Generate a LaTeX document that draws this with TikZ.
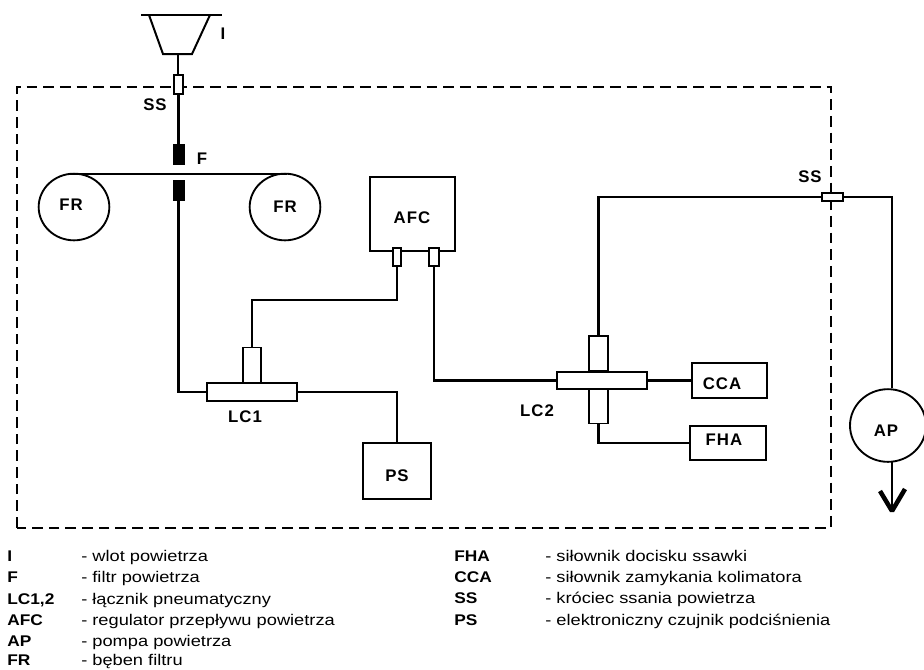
\documentclass[tikz,border=0pt]{standalone}
\usepackage{fontspec}
\setmainfont{Liberation Sans}
\newfontfamily\legfont[FakeStretch=1.18]{Liberation Sans}
\newfontfamily\legboldfont[FakeStretch=1.12]{Liberation Sans Bold}
\newfontfamily\lablfont[LetterSpace=6]{Liberation Sans Bold}
\tikzset{
  px/.style={x=0.75pt,y=-0.75pt},
  pipe/.style={line width=1.7pt,line join=miter},
  thinline/.style={line width=1.3pt},
  box/.style={draw,line width=1.9pt,fill=white,inner sep=0pt,outer sep=0pt},
  thinbox/.style={draw,line width=1.4pt,fill=white,inner sep=0pt,outer sep=0pt},
  solid block/.style={draw,fill=black,line width=0.5pt,inner sep=0pt,outer sep=0pt,minimum width=8pt,minimum height=15pt},
  drum/.style={draw,ellipse,line width=1.4pt,fill=white,inner sep=0pt,outer sep=0pt},
  lab/.style={font=\lablfont\fontsize{12.6pt}{14pt}\selectfont,inner sep=0pt},
  legkey/.style={anchor=base west,inner sep=0pt,font=\fontsize{11.6pt}{13pt}\selectfont\legboldfont},
  legtext/.style={anchor=base west,inner sep=0pt,font=\fontsize{11.6pt}{13pt}\selectfont\legfont},
}
\usetikzlibrary{shapes.geometric}
\begin{document}
\begin{tikzpicture}[px]
\clip (0,0) rectangle (924,669);
\fill[white] (0,0) rectangle (924,669);
% dashed enclosure
\draw[line width=1.5pt,dash pattern=on 8pt off 4.5pt] (17,527.5) -- (17,87) -- (831,87) -- (831,527.5) -- cycle;

% inlet funnel
\draw[line width=1.5pt] (141,14.5) -- (222,14.5);
\draw[line width=1.5pt] (149,15) -- (163,54) -- (192,54) -- (210,15);
\coordinate (inlet) at (178,54);

% components
\node[thinbox,minimum width=6.8pt,minimum height=14.2pt] (ssa) at (178.5,84.5) {};
\node[solid block] (fa) at (178.5,154) {};
\node[solid block] (fb) at (178.5,190) {};
\node[drum,minimum width=53pt,minimum height=50pt] (frl) at (74,207) {};
\node[drum,minimum width=53pt,minimum height=50pt] (frr) at (285,207) {};
\coordinate (beltl) at (70,174);
\coordinate (beltr) at (287,174);
\node[box,minimum width=63.8pt,minimum height=55.5pt] (afc) at (412.5,214) {};
\node[thinbox,line width=1.6pt,minimum width=5.6pt,minimum height=13.5pt] (afca) at (397,257) {};
\node[thinbox,line width=1.6pt,minimum width=7pt,minimum height=13.5pt] (afcb) at (434,257) {};
\node[thinbox,minimum width=13.5pt,minimum height=26.2pt] (lcau) at (252,365) {};
\node[thinbox,minimum width=67.5pt,minimum height=13.5pt] (lca) at (252,392) {};
\node[box,minimum width=51pt,minimum height=42pt] (ps) at (397,471) {};
\node[thinbox,minimum width=14.2pt,minimum height=26.2pt] (lcbu) at (598.5,353.5) {};
\node[thinbox,minimum width=14.2pt,minimum height=26.2pt] (lcbd) at (598.5,406) {};
\node[thinbox,minimum width=67.5pt,minimum height=12.8pt] (lcb) at (602,380.5) {};
\node[box,minimum width=56.2pt,minimum height=26.2pt] (cca) at (729.5,380.5) {};
\node[box,minimum width=57pt,minimum height=25.5pt] (fha) at (728,443) {};
\node[thinbox,minimum width=15.8pt,minimum height=6pt] (ssb) at (832.5,197) {};
\node[drum,minimum width=57pt,minimum height=54.5pt] (ap) at (888,425.5) {};
\coordinate (apout) at (892,511);
\coordinate (afcbend) at (397,300);
\coordinate (apin) at (892,388);
\coordinate (apstem) at (892,462);

% connectors
\draw[thinline] (inlet) -- (ssa.north -| inlet);
\draw[pipe] (ssa.south) -- (fa.north);
\draw[pipe] (beltl) -- (beltr);
\draw[pipe] (fb.south) |- (lca.west);
\draw[pipe] (lcau.north) |- (afcbend) -- (afca.south);
\draw[pipe] (afcb.south) |- (lcb.west);
\draw[pipe] (lca.east) -| (ps.north);
\draw[pipe] (lcbu.north) |- (ssb.west);
\draw[pipe] (ssb.east) -| (apin);
\draw[pipe] (lcb.east) -- (cca.west);
\draw[pipe] (lcbd.south) |- (fha.west);
\draw[pipe] (apstem) -- (apout);
\draw[line width=3.4pt,line join=bevel] (880,491) -- (apout) -- (905,489);

% diagram labels
\node[lab] at (223,34) {I};
\node[lab] at (155,105) {SS};
\node[lab] at (202,159) {F};
\node[lab] at (71,205) {FR};
\node[lab] at (285,207) {FR};
\node[lab] at (412,218) {AFC};
\node[lab] at (245,417) {LC1};
\node[lab] at (537,411) {LC2};
\node[lab] at (397,476) {PS};
\node[lab] at (722,384) {CCA};
\node[lab] at (724,440) {FHA};
\node[lab] at (810,177) {SS};
\node[lab] at (886,431) {AP};

% legend
\foreach \ky/\tx/\yy in {I/wlot powietrza/561, F/filtr powietrza/582.5, LC1{,}2/łącznik pneumatyczny/604, AFC/regulator przepływu powietrza/625, AP/pompa powietrza/646.5, FR/bęben filtru/665.5}{
  \node[legkey] at (7,\yy) {\ky};
  \node[legtext] at (81,\yy) {- \tx};
}
\foreach \ky/\tx/\yy in {FHA/siłownik docisku ssawki/561, CCA/siłownik zamykania kolimatora/582.5, SS/króciec ssania powietrza/603.5, PS/elektroniczny czujnik podciśnienia/625}{
  \node[legkey] at (454,\yy) {\ky};
  \node[legtext] at (545,\yy) {- \tx};
}
\end{tikzpicture}
\end{document}
